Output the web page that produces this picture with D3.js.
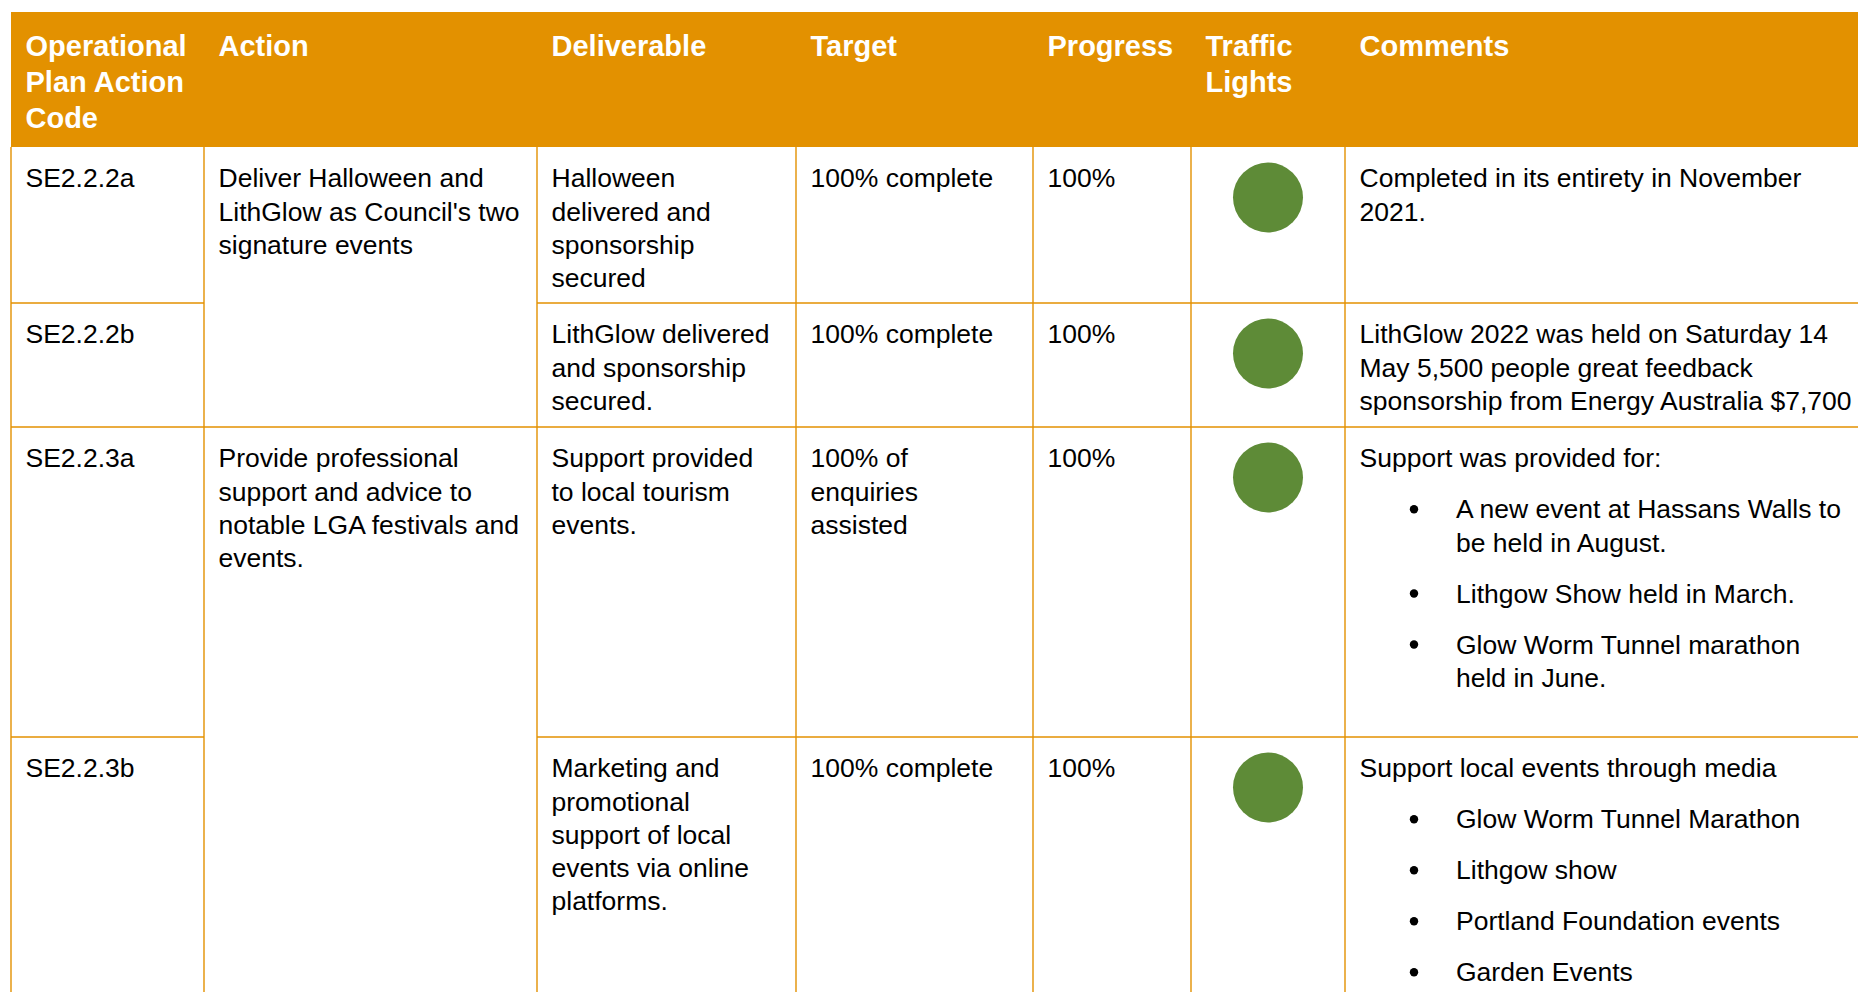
<!DOCTYPE html>
<html>
<head>
<meta charset="utf-8">
<script src="https://cdn.jsdelivr.net/npm/d3@7"></script>
<style>
  html, body { margin: 0; padding: 0; background: #ffffff; overflow: hidden; }
  svg { display: block; }
</style>
</head>
<body>
<script>
// ---------- data ----------
const columns = ["code", "action", "deliverable", "target", "progress", "light", "comments"];
const headers = ["Operational\nPlan Action\nCode", "Action", "Deliverable", "Target", "Progress", "Traffic\nLights", "Comments"];
const codes = ["SE2.2.2a", "SE2.2.2b", "SE2.2.3a", "SE2.2.3b"];
const actions = [
  { text: "Deliver Halloween and\nLithGlow as Council's two\nsignature events", first: 0, last: 1 },
  { text: "Provide professional\nsupport and advice to\nnotable LGA festivals and\nevents.", first: 2, last: 3 }
];
const deliverables = [
  "Halloween\ndelivered and\nsponsorship\nsecured",
  "LithGlow delivered\nand sponsorship\nsecured.",
  "Support provided\nto local tourism\nevents.",
  "Marketing and\npromotional\nsupport of local\nevents via online\nplatforms."
];
const targets = ["100% complete", "100% complete", "100% of\nenquiries\nassisted", "100% complete"];
const progress = ["100%", "100%", "100%", "100%"];
const lights = ["green", "green", "green", "green"];
const comments = [
  [ { bullet: false, text: "Completed in its entirety in November\n2021." } ],
  [ { bullet: false, text: "LithGlow 2022 was held on Saturday 14\nMay 5,500 people great feedback\nsponsorship from Energy Australia $7,700" } ],
  [ { bullet: false, text: "Support was provided for:" },
    { bullet: true,  text: "A new event at Hassans Walls to\nbe held in August." },
    { bullet: true,  text: "Lithgow Show held in March." },
    { bullet: true,  text: "Glow Worm Tunnel marathon\nheld in June." } ],
  [ { bullet: false, text: "Support local events through media" },
    { bullet: true,  text: "Glow Worm Tunnel Marathon" },
    { bullet: true,  text: "Lithgow show" },
    { bullet: true,  text: "Portland Foundation events" },
    { bullet: true,  text: "Garden Events" } ]
];

// ---------- layout ----------
const W = 1858, H = 992;
const colEdges = [11, 204, 537, 796, 1033, 1191, 1345, 1880];
const headerTop = 12, headerBottom = 147;
const rowEdges = [147, 303, 427, 737, 1010];
const ORANGE = "#e39100";
const GREEN = "#5e8b37";
const lightColor = d3.scaleOrdinal().domain(["green", "amber", "red"]).range([GREEN, "#f0b000", "#c00000"]);
const padX = 14.5;
const bodyFont = 26.5, bodyLine = 33.2, bodyFirst = 40.3;
const headFont = 29, headLine = 36.2, headFirst = 44;
const paraGap = 17.8;
const bulletX = 69, bulletTextX = 111;

const xLeft = d3.scaleOrdinal().domain(columns).range(colEdges.slice(0, -1));
const xRight = d3.scaleOrdinal().domain(columns).range(colEdges.slice(1));
const yTop = d3.scaleOrdinal().domain(d3.range(codes.length)).range(rowEdges.slice(0, -1));
const yBot = d3.scaleOrdinal().domain(d3.range(codes.length)).range(rowEdges.slice(1));

const svg = d3.select("body").append("svg").attr("width", W).attr("height", H)
  .style("font-family", "'Liberation Sans', Arial, sans-serif");

// header band
svg.append("rect").attr("x", colEdges[0]).attr("y", headerTop)
  .attr("width", colEdges[colEdges.length - 1] - colEdges[0]).attr("height", headerBottom - headerTop)
  .attr("fill", ORANGE);

function multiline(g, x, y, text, size, step, opts = {}) {
  const t = g.append("text").attr("x", x).attr("y", y)
    .attr("font-size", size).attr("fill", opts.fill || "#000")
    .attr("font-weight", opts.bold ? "bold" : "normal");
  text.split("\n").forEach((line, i) => {
    t.append("tspan").attr("x", x).attr("y", y + i * step).text(line);
  });
  return text.split("\n").length;
}

const head = svg.append("g");
columns.forEach((c, i) => {
  multiline(head, xLeft(c) + padX, headerTop + headFirst, headers[i], headFont, headLine, { bold: true, fill: "#ffffff" });
});

// grid lines
const grid = svg.append("g").attr("stroke", ORANGE).attr("stroke-width", 1.4).attr("fill", "none");
// vertical lines through body
colEdges.forEach(x => {
  grid.append("line").attr("x1", x).attr("x2", x).attr("y1", headerBottom).attr("y2", H + 10);
});
// horizontal row separators (respect merged action cells)
d3.range(codes.length).forEach(r => {
  const y = yBot(r);
  columns.forEach(c => {
    if (c === "action") {
      const merged = actions.some(a => r >= a.first && r < a.last);
      if (merged) return;
    }
    grid.append("line").attr("x1", xLeft(c)).attr("x2", xRight(c)).attr("y1", y).attr("y2", y);
  });
});

// body cells
const body = svg.append("g");
codes.forEach((code, r) => {
  const base = yTop(r) + bodyFirst;
  multiline(body, xLeft("code") + padX, base, code, bodyFont, bodyLine);
  multiline(body, xLeft("deliverable") + padX, base, deliverables[r], bodyFont, bodyLine);
  multiline(body, xLeft("target") + padX, base, targets[r], bodyFont, bodyLine);
  multiline(body, xLeft("progress") + padX, base, progress[r], bodyFont, bodyLine);
  body.append("circle")
    .attr("cx", (xLeft("light") + xRight("light")) / 2)
    .attr("cy", yTop(r) + 50.5)
    .attr("r", 35)
    .attr("fill", lightColor(lights[r]));
  // comments
  let y = base;
  comments[r].forEach(p => {
    const x0 = xLeft("comments") + padX;
    if (p.bullet) {
      body.append("circle").attr("cx", xLeft("comments") + bulletX).attr("cy", y - 9).attr("r", 4.2).attr("fill", "#000");
      const n = multiline(body, xLeft("comments") + bulletTextX, y, p.text, bodyFont, bodyLine);
      y += n * bodyLine + paraGap;
    } else {
      const n = multiline(body, x0, y, p.text, bodyFont, bodyLine);
      y += n * bodyLine + paraGap;
    }
  });
});
actions.forEach(a => {
  multiline(body, xLeft("action") + padX, yTop(a.first) + bodyFirst, a.text, bodyFont, bodyLine);
});
</script>
</body>
</html>
